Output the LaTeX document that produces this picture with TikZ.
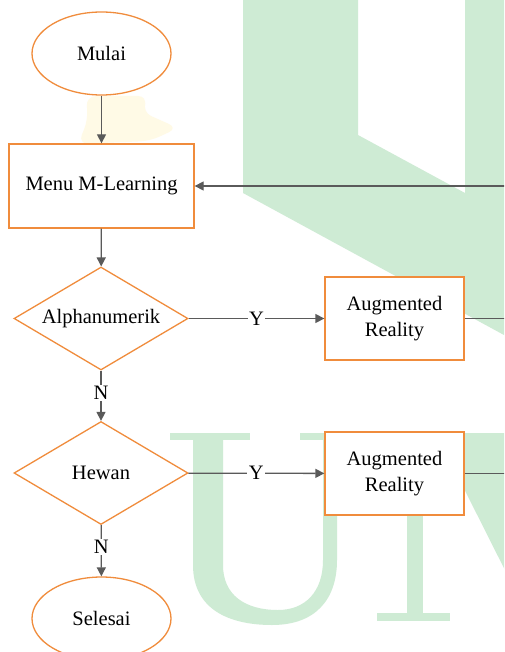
\documentclass[tikz,border=0pt]{standalone}
\usepackage{fontspec}
\setmainfont{Liberation Serif}
\usetikzlibrary{shapes.geometric,arrows.meta}
\definecolor{obord}{RGB}{240,140,60}
\definecolor{lgray}{RGB}{90,90,90}
\definecolor{wmgreen}{RGB}{206,235,212}
\definecolor{wmyellow}{RGB}{255,250,230}
\tikzset{
  base/.style={draw=obord, line width=1.3pt, fill=white, inner sep=0pt,
    font=\fontsize{20.5}{25.5}\selectfont, align=center, text=black},
  term/.style={base, ellipse, minimum width=139pt, minimum height=83pt},
  proc/.style={base, rectangle},
  dec/.style={base, diamond, aspect=1.69, minimum width=174pt, minimum height=103pt},
  conn/.style={draw=lgray, line width=1.3pt},
  arr/.style={conn, -{Triangle[length=9pt,width=9pt]}},
  lbl/.style={fill=white, inner sep=1.5pt, font=\fontsize{20.5}{24}\selectfont, text=black}
}
\begin{document}
\begin{tikzpicture}[x=1pt,y=-1pt]
\clip (0,0) rectangle (504,652);
\useasboundingbox (0,0) rectangle (504,652);
\fill[white] (0,0) rectangle (504,652);
% watermark
\fill[wmgreen,even odd rule] (243,0) -- (504,0) -- (504,335) -- (243,193) -- cycle
  (358,0) -- (465,0) -- (465,193) -- (358,135) -- cycle;
\fill[wmyellow, rounded corners=10pt] (86,96) -- (148,96) -- (142,112) -- (178,128) -- (150,141) -- (78,144) -- (88,120) -- cycle;
% U
\fill[wmgreen] (170,433) rectangle (250,440);
\fill[wmgreen] (300,433) rectangle (347,440);
\fill[wmgreen] (193,440) -- (193,565) .. controls (193,610) and (230,625) .. (272,625)
  .. controls (315,625) and (337,600) .. (337,560) -- (337,440) -- (323,440) -- (323,560)
  .. controls (323,592) and (305,610) .. (278,610) .. controls (245,610) and (223,595) .. (223,565)
  -- (223,440) -- cycle;
% N
\fill[wmgreen] (407,433) rectangle (423,620);
\fill[wmgreen] (377,613) rectangle (450,621);
\fill[wmgreen] (436,433) -- (530,433) -- (614,600) -- (520,600) -- cycle;

% nodes
\node[term] (start) at (101.5,53.5) {Mulai};
\node[proc, minimum width=185pt, minimum height=84pt] (menu) at (101.5,186) {Menu M-Learning};
\node[dec] (alpha) at (101,318.5) {Alphanumerik};
\node[proc, minimum width=139pt, minimum height=83pt] (ar1) at (394.5,318.5) {Augmented\\Reality};
\node[dec] (hewan) at (101,473) {Hewan};
\node[proc, minimum width=139pt, minimum height=83pt] (ar2) at (394.5,473.5) {Augmented\\Reality};
\node[term] (end) at (101.5,618.5) {Selesai};
\coordinate (r0) at (506,186);
\coordinate (r1) at (506,318.5);
\coordinate (r2) at (506,473.5);

% connectors
\draw[arr] (start) -- (menu);
\draw[arr] (menu) -- (alpha);
\draw[arr] (alpha) -- node[lbl]{Y} (ar1);
\draw[arr] (alpha) -- node[lbl, pos=0.45]{N} (hewan);
\draw[arr] (hewan) -- node[lbl]{Y} (ar2);
\draw[arr] (hewan) -- node[lbl, pos=0.43]{N} (end);
\draw[conn] (ar1) -- (r1);
\draw[conn] (ar2) -- (r2);
\draw[arr] (r0) -- (menu);
\end{tikzpicture}
\end{document}
